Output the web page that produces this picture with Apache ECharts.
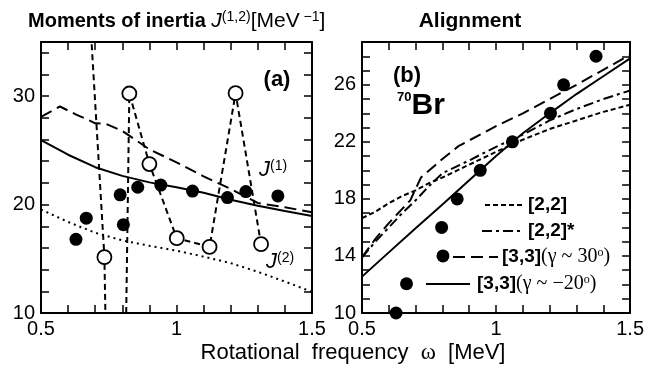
<!DOCTYPE html>
<html><head><meta charset="utf-8">
<script src="https://cdn.jsdelivr.net/npm/echarts@6/dist/echarts.min.js"></script>
<style>html,body{margin:0;padding:0;background:#fff}#c{width:647px;height:369px}</style>
</head><body><div id="c"></div><script>
// ---------- Panel (a): moments of inertia ----------
const omegaJ1Exp = [0.629, 0.667, 0.792, 0.804, 0.857, 0.942, 1.059, 1.188, 1.256, 1.374];
const j1Exp      = [16.8, 18.75, 20.9, 18.15, 21.6, 21.8, 21.25, 20.65, 21.2, 20.8];

const omegaJ2Exp = [0.665, 0.734, 0.78, 0.826, 0.900, 1.001, 1.122, 1.218, 1.312];
const j2Exp      = [44, 15.15, -50, 30.25, 23.74, 16.9, 16.1, 30.28, 16.35];

const omegaJ1G30 = [0.5, 0.57, 0.63, 0.68, 0.70, 0.74, 0.80, 0.85, 0.90, 1.0, 1.1, 1.2, 1.3, 1.4, 1.5];
const j1G30      = [28.1, 29.05, 28.3, 27.75, 27.5, 27.45, 26.8, 25.95, 25.1, 23.9, 22.6, 21.45, 20.15, 19.75, 19.3];

const omegaTheo  = [0.5, 0.6, 0.7, 0.8, 0.9, 1.0, 1.1, 1.2, 1.3, 1.4, 1.5];
const j1Gm20     = [25.95, 24.6, 23.45, 22.65, 22.05, 21.6, 21.1, 20.45, 19.9, 19.4, 18.95];
const j2Theo     = [19.55, 18.4, 17.4, 16.7, 16.2, 15.75, 15.2, 14.6, 13.8, 12.9, 11.95];

// ---------- Panel (b): alignment ----------
const omegaAlExp = [0.627, 0.666, 0.802, 0.797, 0.855, 0.941, 1.061, 1.203, 1.252, 1.373];
const alignExp   = [10.0, 12.05, 14.0, 16.0, 18.0, 20.0, 22.0, 24.0, 26.0, 28.0];

const omegaAl    = [0.5, 0.55, 0.6, 0.65, 0.7, 0.75, 0.8, 0.9, 1.0, 1.1, 1.2, 1.3, 1.4, 1.5];
const al22       = [16.65, 17.1, 17.7, 18.2, 18.6, 19.1, 19.5, 20.4, 21.3, 22.15, 22.9, 23.5, 24.1, 24.6];
const al22s      = [13.9, 15.0, 16.0, 17.0, 17.9, 18.9, 19.8, 20.7, 21.65, 22.5, 23.5, 24.3, 25.0, 25.6];

const omegaAlG30 = [0.5, 0.55, 0.6, 0.65, 0.68, 0.72, 0.8, 0.86, 0.9, 1.0, 1.1, 1.2, 1.3, 1.4, 1.5];
const al33g30    = [13.9, 15.2, 16.3, 17.3, 17.9, 19.5, 20.8, 21.7, 22.1, 23.1, 24.0, 25.0, 26.0, 27.05, 28.1];

const al33gm20   = [12.55, 14.25, 15.95, 17.6, 19.3, 21.0, 22.6, 24.0, 25.35, 26.6, 27.85];

// tick label sets
const xTickLabels  = [0.5, 1, 1.5];
const yTickLabelsA = [10, 20, 30];
const yTickLabelsB = [10, 14, 18, 22, 26];

const legendNames = ['[2,2]', '[2,2]*', '[3,3]', '[3,3]'];
const legendGamma = ['30', '\u221220'];

function pairs(xs, ys) { return xs.map((x, i) => [x, ys[i]]); }
const FONT = 'Liberation Sans';
const SERIF = 'Liberation Serif';

function near(v, list) { return list.some(t => Math.abs(t - v) < 1e-6); }

function xAx(grid, pos, labels) {
  return {
    type: 'value', gridIndex: grid, position: pos, min: 0.5, max: 1.5, interval: 0.1,
    axisLine: { show: true, onZero: false, lineStyle: { color: '#000', width: 2 } },
    axisTick: { show: true, inside: true, length: 8, lineStyle: { color: '#000', width: 1.5 } },
    axisLabel: { show: labels, margin: 6, color: '#000', fontFamily: FONT, fontSize: 20,
      formatter: v => near(v, xTickLabels) ? String(Math.round(v * 2) / 2) : '' },
    splitLine: { show: false }
  };
}
function yAx(grid, pos, labels, min, max, interval, list) {
  return {
    type: 'value', gridIndex: grid, position: pos, min: min, max: max, interval: interval,
    axisLine: { show: true, onZero: false, lineStyle: { color: '#000', width: 2 } },
    axisTick: { show: true, inside: true, length: 8, lineStyle: { color: '#000', width: 1.5 } },
    axisLabel: { show: labels, margin: 6, color: '#000', fontFamily: FONT, fontSize: 20,
      formatter: v => near(v, list) ? String(Math.round(v)) : '' },
    splitLine: { show: false }
  };
}
function lineS(xi, yi, data, type, width) {
  return { type: 'line', xAxisIndex: xi, yAxisIndex: yi, data: data, showSymbol: false, symbol: 'none',
    smooth: false, clip: true, lineStyle: { color: '#000', width: width || 2, type: type }, z: 3 };
}
function dots(xi, yi, data) {
  return { type: 'scatter', xAxisIndex: xi, yAxisIndex: yi, data: data, symbol: 'circle', symbolSize: 13,
    clip: false, itemStyle: { color: '#000', opacity: 1 }, z: 6 };
}

function txt(x, y, text, rich, align, extra) {
  return Object.assign({ type: 'text', x: x, y: y, z: 100, style: {
    text: text, rich: rich, fill: '#000', align: align || 'left', textAlign: align || 'left',
    verticalAlign: 'middle', textVerticalAlign: 'middle' } }, extra || {});
}
function lg(x1, x2, y, dash, w) {
  return { type: 'line', z: 100, shape: { x1: x1, y1: y, x2: x2, y2: y },
    style: { stroke: '#000', lineWidth: w || 2, lineDash: dash || null } };
}

const richLegend = {
  b: { fontFamily: FONT, fontWeight: 'bold', fontSize: 19, color: '#000' },
  g: { fontFamily: SERIF, fontSize: 20, color: '#000' },
  o: { fontFamily: SERIF, fontSize: 12, color: '#000', verticalAlign: 'top' }
};

const option = {
  animation: false,
  backgroundColor: '#fff',
  grid: [
    { left: 41, top: 42, width: 271, height: 271 },
    { left: 362, top: 42, width: 271, height: 271 }
  ],
  xAxis: [ xAx(0, 'bottom', true), xAx(0, 'top', false), xAx(1, 'bottom', true), xAx(1, 'top', false) ],
  yAxis: [
    yAx(0, 'left', true, 10, 35, 2, yTickLabelsA), yAx(0, 'right', false, 10, 35, 2, yTickLabelsA),
    yAx(1, 'left', true, 10, 29, 1, yTickLabelsB), yAx(1, 'right', false, 10, 29, 1, yTickLabelsB)
  ],
  series: [
    // panel (a)
    lineS(0, 0, pairs(omegaJ1G30, j1G30), [12, 6], 2),
    lineS(0, 0, pairs(omegaTheo, j1Gm20), 'solid', 2),
    lineS(0, 0, pairs(omegaTheo, j2Theo), [2, 4], 2),
    { type: 'line', xAxisIndex: 0, yAxisIndex: 0, data: pairs(omegaJ2Exp, j2Exp), clip: true,
      symbol: 'circle', symbolSize: 14, showSymbol: true,
      itemStyle: { color: '#fff', borderColor: '#000', borderWidth: 1.8 },
      lineStyle: { color: '#000', width: 2, type: [6, 4] }, z: 5 },
    dots(0, 0, pairs(omegaJ1Exp, j1Exp)),
    // panel (b)
    lineS(2, 2, pairs(omegaAl, al22), [5, 3], 2),
    lineS(2, 2, pairs(omegaAl, al22s), [10, 4, 3, 4], 2),
    lineS(2, 2, pairs(omegaAlG30, al33g30), [12, 6], 2),
    lineS(2, 2, pairs(omegaTheo, al33gm20), 'solid', 2),
    dots(2, 2, pairs(omegaAlExp, alignExp))
  ],
  graphic: [
    txt(28, 21, '{b|Moments of inertia }{j|J}{s|(1,2)}{r|[MeV}{s| \u22121}{r|]}', {
      b: { fontFamily: FONT, fontWeight: 'bold', fontSize: 20, color: '#000' },
      j: { fontFamily: FONT, fontStyle: 'italic', fontSize: 21, color: '#000' },
      s: { fontFamily: FONT, fontSize: 14, color: '#000', verticalAlign: 'top' },
      r: { fontFamily: FONT, fontSize: 21, color: '#000' }
    }),
    txt(470, 21, '{b|Alignment}', { b: { fontFamily: FONT, fontWeight: 'bold', fontSize: 21, color: '#000' } }, 'center'),
    txt(353, 353, '{n|Rotational  frequency  }{w|\u03c9}{n|  [MeV]}', {
      n: { fontFamily: FONT, fontSize: 22, color: '#000' },
      w: { fontFamily: SERIF, fontSize: 23, color: '#000' }
    }, 'center'),
    txt(277, 80, '{b|(a)}', { b: { fontFamily: FONT, fontWeight: 'bold', fontSize: 22, color: '#000' } }, 'center'),
    txt(407, 76, '{b|(b)}', { b: { fontFamily: FONT, fontWeight: 'bold', fontSize: 22, color: '#000' } }, 'center'),
    txt(397, 106, '{s|70}{b|Br}', {
      s: { fontFamily: FONT, fontWeight: 'bold', fontSize: 13, color: '#000', verticalAlign: 'top' },
      b: { fontFamily: FONT, fontWeight: 'bold', fontSize: 30, color: '#000' }
    }),
    txt(259, 170, '{j|J}{s|(1)}', {
      j: { fontFamily: FONT, fontStyle: 'italic', fontSize: 22, color: '#000' },
      s: { fontFamily: FONT, fontSize: 14, color: '#000', verticalAlign: 'top' }
    }),
    txt(266, 262, '{j|J}{s|(2)}', {
      j: { fontFamily: FONT, fontStyle: 'italic', fontSize: 22, color: '#000' },
      s: { fontFamily: FONT, fontSize: 14, color: '#000', verticalAlign: 'top' }
    }),
    // legend
    lg(485, 525, 205, [5, 3]),
    txt(528, 205, '{b|' + legendNames[0] + '}', richLegend),
    lg(482, 524, 231, [10, 4, 3, 4]),
    txt(528, 231, '{b|' + legendNames[1] + '}', richLegend),
    lg(453, 498, 257, [12, 6]),
    txt(502, 257, '{b|' + legendNames[2] + '}{g|(\u03b3 ~ ' + legendGamma[0] + '}{o|o}{g|)}', richLegend),
    lg(426, 470, 284, null),
    txt(477, 284, '{b|' + legendNames[3] + '}{g|(\u03b3 ~ ' + legendGamma[1] + '}{o|o}{g|)}', richLegend)
  ]
};
const chart = echarts.init(document.getElementById('c'), null, { renderer: 'canvas' });
chart.setOption(option);
</script></body></html>
